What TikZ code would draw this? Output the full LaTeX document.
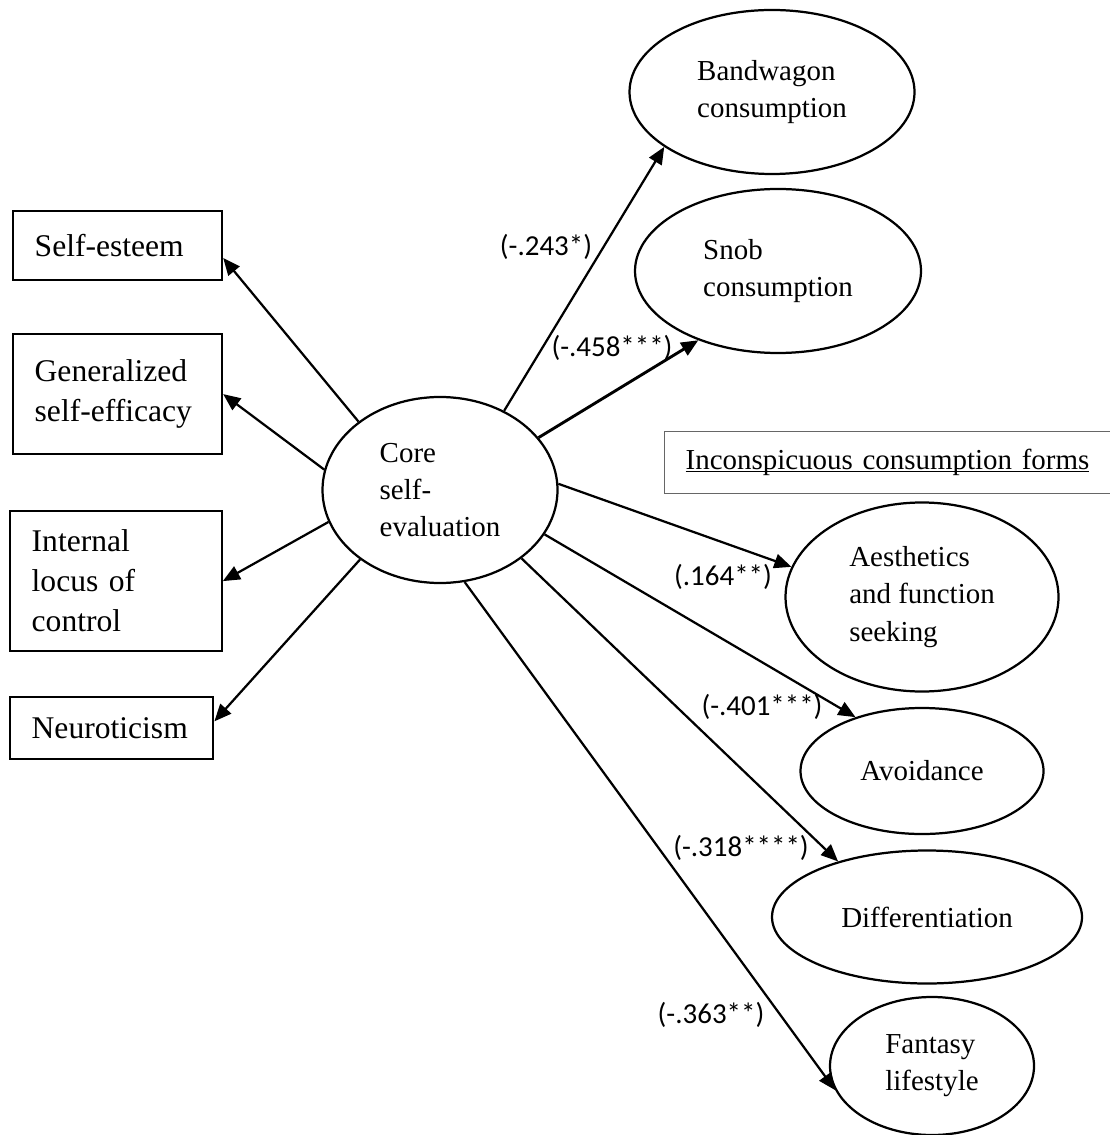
\documentclass[tikz,border=0pt]{standalone}
\usepackage{fontspec}
\setmainfont{Liberation Serif}
\newfontfamily\coeffont{Carlito}
\usetikzlibrary{shapes.geometric,arrows.meta}

\newcommand{\formline}[1]{\sbox0{#1}\rlap{\rule[-0.9pt]{\wd0}{0.6pt}}\usebox0}

\begin{document}
\begin{tikzpicture}[
  x=0.38pt, y=-0.38pt,
  line width=0.85pt,
  box/.style={
    draw, anchor=north west,
    inner xsep=8.2pt, inner ysep=0pt,
    text width=#1, align=left,
    font=\fontsize{12}{15.2}\selectfont,
    },
  oval/.style 2 args={
    ellipse, draw, inner sep=0pt,
    minimum width=#1*0.38pt, minimum height=#2*0.38pt,
    align=left, font=\fontsize{11}{14.1}\selectfont,
    },
  formbox/.style={
    draw=black!60, line width=0.5pt, anchor=north west,
    inner xsep=8pt, text width=155pt, minimum height=23.6pt,
    align=left, font=\fontsize{11}{13}\selectfont,
    },
  coef/.style={font=\coeffont\fontsize{11}{13}\selectfont, inner sep=0pt},
  link/.style={-{Triangle[length=6.5pt,width=5.5pt]}},
  ]
  \useasboundingbox (0,0) rectangle (1109,1135);

  % core self-evaluation dimensions
  \node[box=63pt, minimum height=26.2pt] (selfest) at (12,210) {Self-esteem};
  \node[box=63pt, minimum height=45.6pt] (gse) at (12,333)
    {Generalized\\self-efficacy};
  \node[box=64pt, minimum height=53.2pt] (locus) at (9,510)
    {Internal\\locus of\\control};
  \node[box=60.8pt, minimum height=23.6pt] (neuro) at (9,696) {Neuroticism};

  \node[oval={235}{186}] (cse) at (440,490) {Core\\self-\\evaluation};

  % consumption forms
  \node[oval={285}{164}] (bandw) at (772,92) {Bandwagon\\consumption};
  \node[oval={286}{164}] (snob) at (778,271) {Snob\\consumption};
  \node[formbox] (forms) at (664,431)
    {\formline{Inconspicuous consumption forms}};
  \node[oval={273}{189}] (aesth) at (922,597) {Aesthetics\\and function\\seeking};
  \node[oval={243}{126}] (avoid) at (922,771) {Avoidance};
  \node[oval={310}{133}] (diff) at (927,917) {Differentiation};
  \node[oval={204}{138}] (fant) at (932,1066) {Fantasy\\lifestyle};

  \draw[link] (cse.140) -- ([yshift=-4.7pt]selfest.east);
  \draw[link] (cse.170) -- (gse.east);
  \draw[link] (cse.196) -- (locus.east);
  \draw[link] (cse.221) -- ([yshift=2.6pt]neuro.east);

  \draw[link] (cse.51) -- (bandw.207);
  \draw[link, line width=1.1pt] (cse.28) -- (snob.221);
  \draw[link] (cse.3) -- (aesth.167);
  \draw[link] (cse.-23) -- (avoid.141);
  \draw[link] (cse.-40) -- (diff.148);
  \draw[link] (cse.-75) -- (fant.194);

  \node[coef] (c1) at (546,247) {(-.243*)};
  \node[coef] (c2) at (612,348) {(-.458***)};
  \node[coef] (c3) at (723,577) {(.164**)};
  \node[coef] (c4) at (762,707) {(-.401***)};
  \node[coef] (c5) at (741,848) {(-.318****)};
  \node[coef] (c6) at (711,1015) {(-.363**)};
\end{tikzpicture}
\end{document}
